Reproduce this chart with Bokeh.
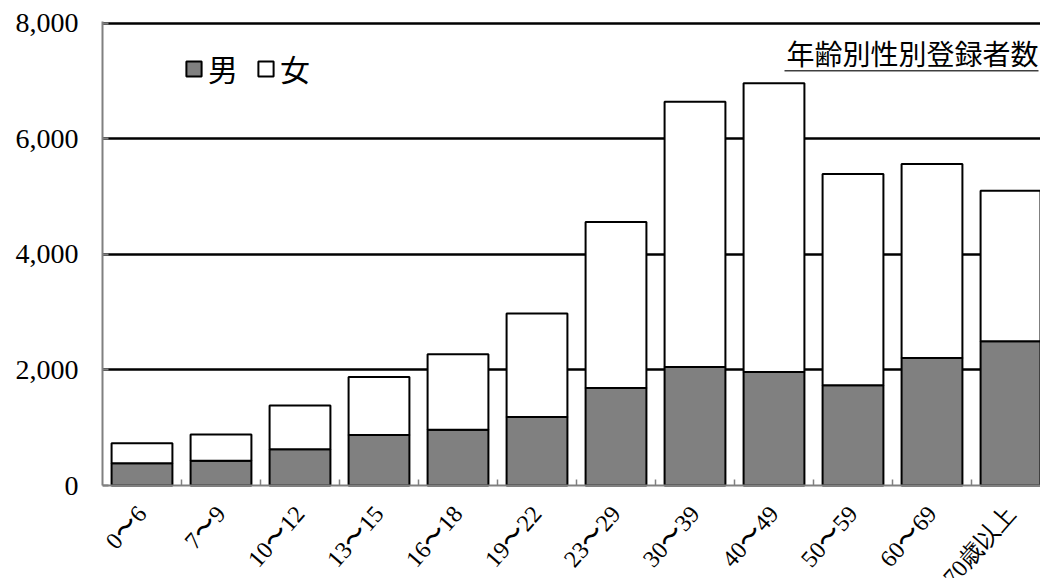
import numpy as np
from bokeh.plotting import figure
from bokeh.models import (ColumnDataSource, Range1d, FixedTicker, NumeralTickFormatter,
                          Label, BoxAnnotation)
from bokeh.embed import file_html
from bokeh.resources import INLINE

# ---- data ----
categories = ["0〜6", "7〜9", "10〜12", "13〜15", "16〜18", "19〜22",
              "23〜29", "30〜39", "40〜49", "50〜59", "60〜69", "70歳以上"]
male = [386, 428, 629, 872, 965, 1184, 1686, 2050, 1963, 1733, 2206, 2495]
female = [347, 456, 757, 1005, 1305, 1791, 2876, 4592, 4998, 3656, 3356, 2605]
y_ticks = [0, 2000, 4000, 6000, 8000]
series_names = ["男", "女"]
title_text = "年齢別性別登録者数"

n = len(categories)
xpos = (np.arange(n) + 0.5).tolist()
boundaries = [float(b) for b in range(1, n)]

src = ColumnDataSource(dict(x=xpos, male=male, female=female))

CAT_PX = 79.0
FRAME_W = 938
Y_TOP = 8030
PX_PER_UNIT = 464 / Y_TOP          # plot height from 0 to the top
BELOW_PX = 93                      # room under the zero line for the labels
y_start = -BELOW_PX / PX_PER_UNIT

p = figure(width=1040, height=578,
           x_range=Range1d(0, FRAME_W / CAT_PX), y_range=Range1d(y_start, Y_TOP),
           output_backend="svg", toolbar_location=None,
           min_border_left=102, min_border_right=0,
           min_border_top=21, min_border_bottom=0)
p.outline_line_color = None
p.background_fill_color = "white"
p.border_fill_color = "white"

rs = p.vbar_stack(["male", "female"], x="x", width=0.77, source=src,
                  fill_color=["#808080", "white"], line_color="black",
                  line_width=2, legend_label=series_names)

# y axis
ya = p.yaxis[0]
ya.ticker = FixedTicker(ticks=y_ticks)
ya.formatter = NumeralTickFormatter(format="0,0")
ya.bounds = (0, Y_TOP)
ya.axis_line_color = "#808080"
ya.axis_line_width = 2
ya.major_tick_in = 6
ya.major_tick_out = 0
ya.major_tick_line_color = "#808080"
ya.major_tick_line_width = 2
ya.minor_tick_in = 0
ya.minor_tick_out = 0
ya.major_label_standoff = 24
ya.major_label_text_font = "Liberation Serif"
ya.major_label_text_font_size = "28px"
ya.major_label_text_color = "black"

# x axis sits on the zero line
xa = p.xaxis[0]
xa.fixed_location = 0
xa.ticker = FixedTicker(ticks=xpos, minor_ticks=boundaries)
xa.major_label_overrides = {xc: cat for xc, cat in zip(xpos, categories)}
xa.major_label_orientation = 0.85
xa.major_label_standoff = 24
xa.major_label_text_font = "Liberation Serif"
xa.major_label_text_font_size = "24px"
xa.major_label_text_color = "black"
xa.axis_line_color = "#808080"
xa.axis_line_width = 2
xa.major_tick_in = 0
xa.major_tick_out = 0
xa.minor_tick_in = 6
xa.minor_tick_out = 0
xa.minor_tick_line_color = "#808080"
xa.minor_tick_line_width = 1.5

p.xgrid.visible = False
p.ygrid.ticker = FixedTicker(ticks=y_ticks[1:])
p.ygrid.grid_line_color = "black"
p.ygrid.grid_line_width = 2.5

# legend
lg = p.legend[0]
lg.orientation = "horizontal"
lg.location = (82, 395 + BELOW_PX)
lg.border_line_color = None
lg.background_fill_alpha = 0
lg.padding = 0
lg.margin = 0
lg.spacing = 18
lg.glyph_width = 19
lg.glyph_height = 19
lg.label_standoff = 5
lg.label_text_font = "Noto Sans CJK JP"
lg.label_text_font_size = "30px"
lg.label_text_color = "black"

# title with underline
title = Label(x=684, y=453 + BELOW_PX, x_units="screen", y_units="screen", text=title_text,
              text_font="Noto Sans CJK JP", text_font_size="28px",
              text_baseline="top", text_align="left", text_color="black")
p.add_layout(title)
ul = BoxAnnotation(left=682, right=936, bottom=414 + BELOW_PX, top=415.5 + BELOW_PX,
                   left_units="screen", right_units="screen",
                   bottom_units="screen", top_units="screen",
                   fill_color="#404040", fill_alpha=1, line_color=None)
p.add_layout(ul)

open("out.html", "w").write(file_html(p, INLINE))
